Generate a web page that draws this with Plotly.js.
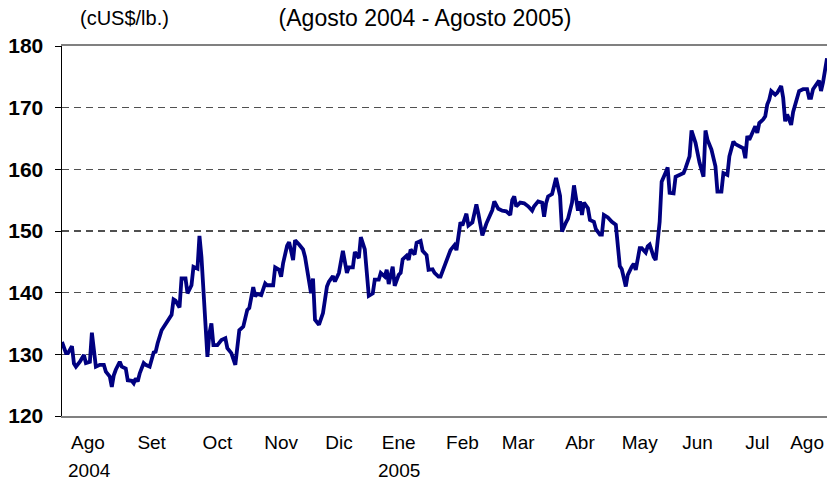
<!DOCTYPE html>
<html>
<head>
<meta charset="utf-8">
<script src="https://cdn.plot.ly/plotly-3.0.1.min.js"></script>
<style>
html,body{margin:0;padding:0;background:#fff;}
#chart{width:827px;height:481px;}
</style>
</head>
<body>
<div id="chart"></div>
<script>
// Price of copper, cUS$/lb, Aug 2004 - Aug 2005
const dates = [
"2004-08-01","2004-08-03","2004-08-04","2004-08-06","2004-08-07","2004-08-08","2004-08-10","2004-08-12","2004-08-13","2004-08-15",
"2004-08-16","2004-08-17","2004-08-18","2004-08-20","2004-08-22","2004-08-23","2004-08-25","2004-08-26","2004-08-27","2004-08-28",
"2004-08-30","2004-08-31","2004-09-02","2004-09-03","2004-09-05","2004-09-06","2004-09-07","2004-09-08","2004-09-09","2004-09-11",
"2004-09-12","2004-09-14","2004-09-16","2004-09-17","2004-09-18","2004-09-20","2004-09-21","2004-09-23","2004-09-25","2004-09-26",
"2004-09-27","2004-09-29","2004-09-30","2004-10-02","2004-10-03","2004-10-05","2004-10-06","2004-10-08","2004-10-09","2004-10-10",
"2004-10-11","2004-10-13","2004-10-14","2004-10-15","2004-10-16","2004-10-18","2004-10-20","2004-10-22","2004-10-23","2004-10-25",
"2004-10-27","2004-10-28","2004-10-29","2004-10-31","2004-11-02","2004-11-03","2004-11-05","2004-11-06","2004-11-07","2004-11-09",
"2004-11-11","2004-11-12","2004-11-15","2004-11-16","2004-11-18","2004-11-19","2004-11-20","2004-11-22","2004-11-23","2004-11-25",
"2004-11-26","2004-11-28","2004-11-30","2004-12-01","2004-12-03","2004-12-04","2004-12-05","2004-12-06","2004-12-08","2004-12-10",
"2004-12-12","2004-12-13","2004-12-15","2004-12-16","2004-12-18","2004-12-20","2004-12-22","2004-12-23","2004-12-25","2004-12-26",
"2004-12-28","2004-12-29","2004-12-31","2005-01-01","2005-01-02","2005-01-04","2005-01-05","2005-01-07","2005-01-08","2005-01-10",
"2005-01-11","2005-01-12","2005-01-14","2005-01-15","2005-01-17","2005-01-18","2005-01-19","2005-01-21","2005-01-22","2005-01-23",
"2005-01-25","2005-01-26","2005-01-28","2005-01-29","2005-01-31","2005-02-01","2005-02-03","2005-02-04","2005-02-06","2005-02-07",
"2005-02-09","2005-02-11","2005-02-12","2005-02-14","2005-02-15","2005-02-17","2005-02-18","2005-02-20","2005-02-21","2005-02-23",
"2005-02-25","2005-02-26","2005-02-28","2005-03-02","2005-03-04","2005-03-05","2005-03-06","2005-03-08","2005-03-10","2005-03-12",
"2005-03-14","2005-03-15","2005-03-16","2005-03-17","2005-03-19","2005-03-21","2005-03-23","2005-03-25","2005-03-26","2005-03-28",
"2005-03-30","2005-03-31","2005-04-01","2005-04-02","2005-04-04","2005-04-05","2005-04-06","2005-04-08","2005-04-09","2005-04-11",
"2005-04-12","2005-04-14","2005-04-15","2005-04-17","2005-04-18","2005-04-19","2005-04-20","2005-04-22","2005-04-23","2005-04-25",
"2005-04-26","2005-04-28","2005-04-29","2005-04-30","2005-05-02","2005-05-04","2005-05-06","2005-05-08","2005-05-09","2005-05-11",
"2005-05-12","2005-05-14","2005-05-15","2005-05-16","2005-05-18","2005-05-19","2005-05-21","2005-05-22","2005-05-23","2005-05-25",
"2005-05-26","2005-05-28","2005-05-29","2005-05-31","2005-06-01","2005-06-02","2005-06-04","2005-06-05","2005-06-07","2005-06-09",
"2005-06-10","2005-06-12","2005-06-13","2005-06-14","2005-06-15","2005-06-17","2005-06-19","2005-06-20","2005-06-21","2005-06-23",
"2005-06-24","2005-06-25","2005-06-26","2005-06-28","2005-06-29","2005-07-01","2005-07-02","2005-07-04","2005-07-05","2005-07-07",
"2005-07-09","2005-07-10","2005-07-11","2005-07-12","2005-07-14","2005-07-15","2005-07-16","2005-07-17","2005-07-19","2005-07-20",
"2005-07-21","2005-07-22","2005-07-23","2005-07-25","2005-07-26","2005-07-28","2005-07-29","2005-07-30","2005-07-31","2005-08-01",
"2005-08-02","2005-08-03","2005-08-05","2005-08-06","2005-08-08","2005-08-10","2005-08-11","2005-08-12","2005-08-13","2005-08-15",
"2005-08-16","2005-08-17","2005-08-18","2005-08-20"
];
const prices = [
132.0,130.2,130.2,131.3,128.5,128.0,128.8,129.9,128.6,128.8,
133.5,130.2,128.0,128.3,128.3,127.2,126.4,124.7,126.6,127.5,
128.8,128.0,127.7,125.8,125.7,125.3,126.1,125.6,126.9,128.6,
128.3,128.0,130.3,130.4,131.8,133.9,134.4,135.3,136.4,138.9,
138.7,137.6,142.3,142.3,139.9,141.2,144.2,143.9,149.2,145.8,
141.0,129.6,133.4,135.0,131.5,131.5,132.3,132.6,131.0,130.2,
128.3,131.0,133.9,134.5,137.2,137.5,140.9,139.4,139.8,139.6,
141.5,141.2,141.2,144.1,143.7,142.6,144.8,147.6,148.2,145.3,
148.5,147.8,147.0,145.8,142.1,139.9,142.3,135.6,134.8,136.7,
141.0,141.8,142.7,141.8,143.2,146.8,143.2,144.1,144.1,146.6,
145.6,149.0,147.0,143.0,139.5,139.9,142.1,142.1,143.2,142.6,
143.7,141.4,144.2,141.1,142.9,143.2,145.4,146.0,145.3,147.0,
146.2,148.1,148.4,146.8,146.1,143.7,143.8,143.2,142.6,142.6,
144.2,145.8,146.9,147.7,146.9,151.4,150.9,152.8,150.9,151.4,
154.3,152.8,149.3,151.2,152.6,153.4,154.8,153.6,153.3,153.2,
152.6,155.0,155.6,154.0,154.6,154.5,154.0,153.3,154.0,154.8,
154.6,152.3,154.5,155.6,156.0,157.3,158.6,155.7,149.9,151.4,
152.0,154.6,157.4,153.3,154.8,152.6,154.6,153.7,151.8,151.5,
150.3,149.4,149.4,152.6,152.2,151.5,151.0,144.3,143.8,141.0,
142.9,144.2,144.7,143.7,147.2,147.2,146.5,147.5,147.8,145.8,
145.3,151.5,158.0,159.5,160.3,156.2,156.1,158.8,159.1,159.4,
160.2,162.1,166.3,165.4,164.3,161.1,158.8,166.3,164.8,163.2,
162.1,160.5,156.4,156.4,159.4,159.1,162.1,164.5,164.1,163.7,
163.4,161.8,165.4,164.8,166.2,167.0,165.9,167.5,168.1,168.6,
170.5,171.3,172.7,172.1,172.4,173.5,171.6,167.8,168.9,167.8,
167.2,169.3,171.3,172.7,173.0,173.0,171.6,171.6,173.0,174.1,
174.4,172.7,174.1,178.0
];
const monthTickDates = ["2004-08-14","2004-09-15","2004-10-18","2004-11-19","2004-12-18","2005-01-17","2005-02-18","2005-03-18","2005-04-18","2005-05-18","2005-06-16","2005-07-16","2005-08-10"];
const monthLabels = ["Ago","Set","Oct","Nov","Dic","Ene","Feb","Mar","Abr","May","Jun","Jul","Ago"];
const yearLabels = ["2004","2005"];
const yearLabelDates = ["2004-08-15","2005-01-17"];
const yTicks = [120,130,140,150,160,170,180];

const FONT = "Liberation Sans, Arial, sans-serif";

const trace = {
  x: dates, y: prices, type: "scatter", mode: "lines",
  line: {color: "#000080", width: 3.8},
  hoverinfo: "skip"
};

const annotations = [
  {text: "(cUS$/lb.)", xref: "paper", yref: "paper", x: (124.5-62)/765, y: (416-18)/370,
   xanchor: "center", yanchor: "middle", showarrow: false, font: {family: FONT, size: 20, color: "#000"}}
];
yearLabels.forEach((t, i) => annotations.push({
  text: t, xref: "x", yref: "paper", x: yearLabelDates[i], y: (416-470)/370,
  xanchor: "center", yanchor: "middle", showarrow: false, font: {family: FONT, size: 19, color: "#000"}
}));

const layout = {
  width: 827, height: 481,
  margin: {l: 62, r: 0, t: 46, b: 65},
  paper_bgcolor: "#fff", plot_bgcolor: "#fff",
  showlegend: false,
  title: {text: "(Agosto 2004 - Agosto 2005)", x: 425/827, xanchor: "center", xref: "container",
          y: 1 - 18/481, yanchor: "middle", yref: "container",
          font: {family: FONT, size: 23, color: "#000"}},
  xaxis: {
    type: "date", range: ["2004-08-01", "2005-08-20"],
    tickmode: "array", tickvals: monthTickDates, ticktext: monthLabels,
    ticks: "", showgrid: false, zeroline: false,
    showline: true, linecolor: "#808080", linewidth: 2, mirror: true,
    tickfont: {family: FONT, size: 19, color: "#000"},
    ticklabelstandoff: 8
  },
  yaxis: {
    range: [120, 180], tickmode: "array", tickvals: yTicks,
    ticktext: yTicks.map(v => "<b>" + v + "</b>"),
    ticks: "outside", ticklen: 6, tickcolor: "#000", tickwidth: 1,
    showline: true, linecolor: "#000", linewidth: 1.5,
    showgrid: true, gridcolor: "#505050", gridwidth: 1.3, griddash: "7px,5px",
    zeroline: false,
    tickfont: {family: FONT, size: 21, color: "#000", weight: 700},
    ticklabelstandoff: 7
  },
  annotations: annotations
};

Plotly.newPlot("chart", [trace], layout, {staticPlot: true, displayModeBar: false});
</script>
</body>
</html>
